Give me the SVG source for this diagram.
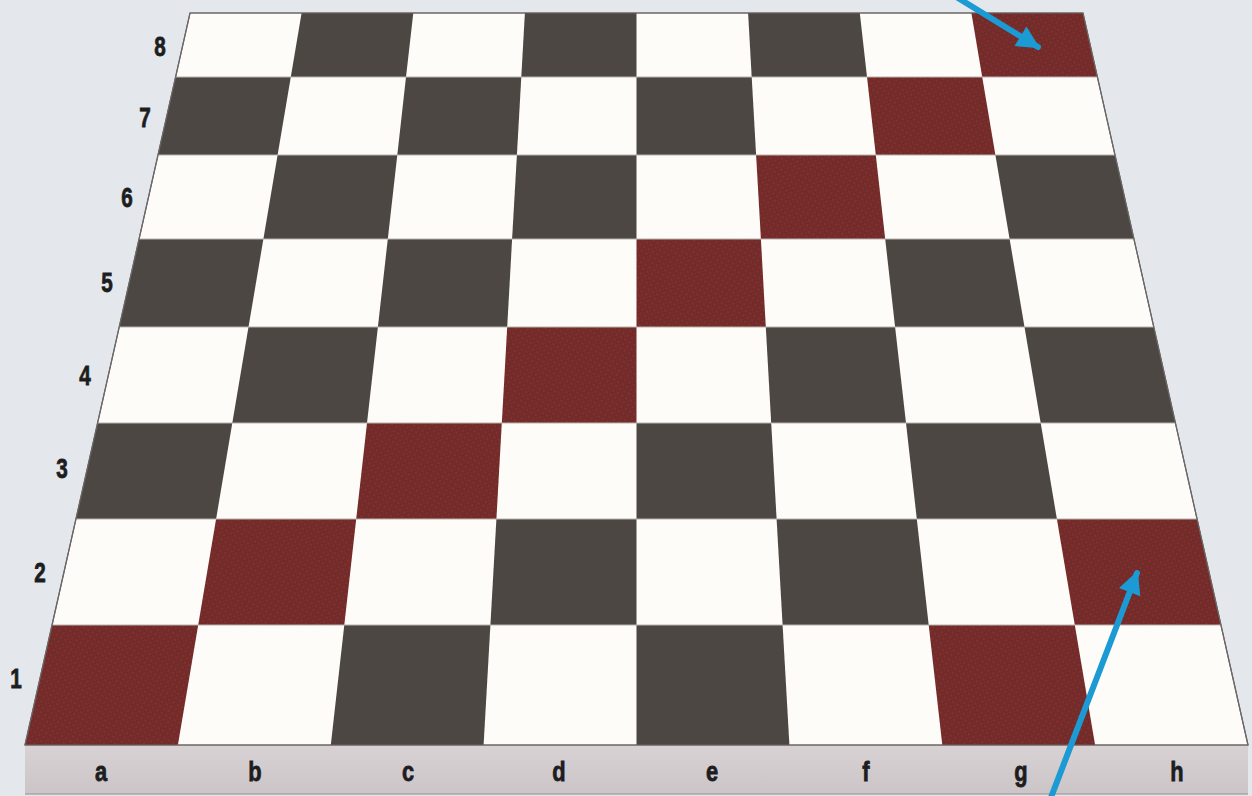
<svg xmlns="http://www.w3.org/2000/svg" width="1252" height="796" viewBox="0 0 1252 796">
<style>
.bg{fill:#e4e8ec}
.board{fill:#fefcf8;stroke:#6b6766;stroke-width:1.2}
.dk{fill:#4c4742}
.rd{fill:url(#redpat)}
.row{stroke:#b8b3ae;stroke-width:1;fill:none}
.rank{font-family:"Liberation Sans",Arial,sans-serif;font-weight:bold;font-size:28px;fill:#1d1d1f;stroke:#1d1d1f;stroke-width:0.8;text-anchor:middle}
.file{font-family:"Liberation Sans",Arial,sans-serif;font-weight:bold;font-size:28px;fill:#1d1d1f;stroke:#1d1d1f;stroke-width:0.8;text-anchor:middle}
.arrow{stroke:#1b9ad3;stroke-width:6;fill:none;stroke-linecap:round}
</style>
<defs>
<pattern id="redpat" width="5" height="5" patternUnits="userSpaceOnUse" patternTransform="rotate(30)">
<rect width="5" height="5" fill="#6c2d2a"/>
<circle cx="1.5" cy="1.5" r="1.2" fill="#922a2d"/>
<circle cx="4" cy="4" r="0.9" fill="#7e2b2b"/>
</pattern>
<linearGradient id="strip" x1="0" y1="0" x2="0" y2="1">
<stop offset="0" stop-color="#d8d2d5"/>
<stop offset="1" stop-color="#cbc5c8"/>
</linearGradient>
<marker id="ah" viewBox="0 0 10 10" refX="9" refY="5" markerWidth="4.6" markerHeight="3.8" orient="auto" markerUnits="strokeWidth">
<path d="M0,0 L10,5 L0,10 Z" fill="#1b9ad3"/>
</marker>
</defs>
<rect class="bg" x="0" y="0" width="1252" height="796"/>

<g id="strip">
<rect x="25" y="745" width="1223" height="49" fill="url(#strip)"/>
<line x1="25" y1="794" x2="1248" y2="794" stroke="#a9a4a7" stroke-width="1.5"/>
</g>

<g id="board">
<polygon class="board" points="190,13 1083,13 1248,745 25,745"/>
<polygon class="dk" points="301.6,13 413.3,13 406.0,77 290.8,77"/>
<polygon class="dk" points="524.9,13 636.5,13 636.5,77 521.3,77"/>
<polygon class="dk" points="748.1,13 859.8,13 867.0,77 751.7,77"/>
<polygon class="rd" points="971.4,13 1083,13 1097.4,77 982.2,77"/>
<polygon class="dk" points="175.6,77 290.8,77 277.6,155 158.0,155"/>
<polygon class="dk" points="406.0,77 521.3,77 516.9,155 397.3,155"/>
<polygon class="dk" points="636.5,77 751.7,77 756.1,155 636.5,155"/>
<polygon class="rd" points="867.0,77 982.2,77 995.4,155 875.8,155"/>
<polygon class="dk" points="277.6,155 397.3,155 387.8,239 263.4,239"/>
<polygon class="dk" points="516.9,155 636.5,155 636.5,239 512.1,239"/>
<polygon class="rd" points="756.1,155 875.8,155 885.2,239 760.9,239"/>
<polygon class="dk" points="995.4,155 1115.0,155 1133.9,239 1009.6,239"/>
<polygon class="dk" points="139.1,239 263.4,239 248.5,327 119.2,327"/>
<polygon class="dk" points="387.8,239 512.1,239 507.2,327 377.9,327"/>
<polygon class="rd" points="636.5,239 760.9,239 765.8,327 636.5,327"/>
<polygon class="dk" points="885.2,239 1009.6,239 1024.5,327 895.1,327"/>
<polygon class="dk" points="248.5,327 377.9,327 367.0,423 232.3,423"/>
<polygon class="rd" points="507.2,327 636.5,327 636.5,423 501.8,423"/>
<polygon class="dk" points="765.8,327 895.1,327 906.0,423 771.2,423"/>
<polygon class="dk" points="1024.5,327 1153.8,327 1175.4,423 1040.7,423"/>
<polygon class="dk" points="97.6,423 232.3,423 216.1,519 75.9,519"/>
<polygon class="rd" points="367.0,423 501.8,423 496.4,519 356.2,519"/>
<polygon class="dk" points="636.5,423 771.2,423 776.6,519 636.5,519"/>
<polygon class="dk" points="906.0,423 1040.7,423 1056.9,519 916.8,519"/>
<polygon class="rd" points="216.1,519 356.2,519 344.3,625 198.2,625"/>
<polygon class="dk" points="496.4,519 636.5,519 636.5,625 490.4,625"/>
<polygon class="dk" points="776.6,519 916.8,519 928.7,625 782.6,625"/>
<polygon class="rd" points="1056.9,519 1197.1,519 1220.9,625 1074.8,625"/>
<polygon class="rd" points="52.1,625 198.2,625 177.9,745 25,745"/>
<polygon class="dk" points="344.3,625 490.4,625 483.6,745 330.8,745"/>
<polygon class="dk" points="636.5,625 782.6,625 789.4,745 636.5,745"/>
<polygon class="rd" points="928.7,625 1074.8,625 1095.1,745 942.3,745"/>
<path class="row" d="M175.6,77H1097.4M158,155H1115M139.1,239H1133.9M119.2,327H1153.8M97.6,423H1175.4M75.9,519H1197.1M52.1,625H1220.9"/>
<polygon points="190,13 1083,13 1248,745 25,745" fill="none" stroke="#6b6766" stroke-width="1.2"/>
</g>

<g id="ranks">
<text class="rank" transform="translate(160,56) scale(0.74,1)">8</text>
<text class="rank" transform="translate(145,127) scale(0.74,1)">7</text>
<text class="rank" transform="translate(127,207) scale(0.74,1)">6</text>
<text class="rank" transform="translate(107,292) scale(0.74,1)">5</text>
<text class="rank" transform="translate(85,385) scale(0.74,1)">4</text>
<text class="rank" transform="translate(62,478) scale(0.74,1)">3</text>
<text class="rank" transform="translate(40,582) scale(0.74,1)">2</text>
<text class="rank" transform="translate(16,688) scale(0.74,1)">1</text>
</g>

<g id="files">
<text class="file" transform="translate(101,781) scale(0.78,1)">a</text>
<text class="file" transform="translate(255,781) scale(0.78,1)">b</text>
<text class="file" transform="translate(408,781) scale(0.78,1)">c</text>
<text class="file" transform="translate(559,781) scale(0.78,1)">d</text>
<text class="file" transform="translate(712,781) scale(0.78,1)">e</text>
<text class="file" transform="translate(866,781) scale(0.78,1)">f</text>
<text class="file" transform="translate(1021,781) scale(0.78,1)">g</text>
<text class="file" transform="translate(1177,781) scale(0.78,1)">h</text>
</g>

<g id="connectors">
<line class="arrow" x1="958" y1="-2" x2="1038" y2="47" marker-end="url(#ah)"/>
<line class="arrow" x1="1050" y1="800" x2="1137" y2="573" marker-end="url(#ah)"/>
</g>
</svg>
